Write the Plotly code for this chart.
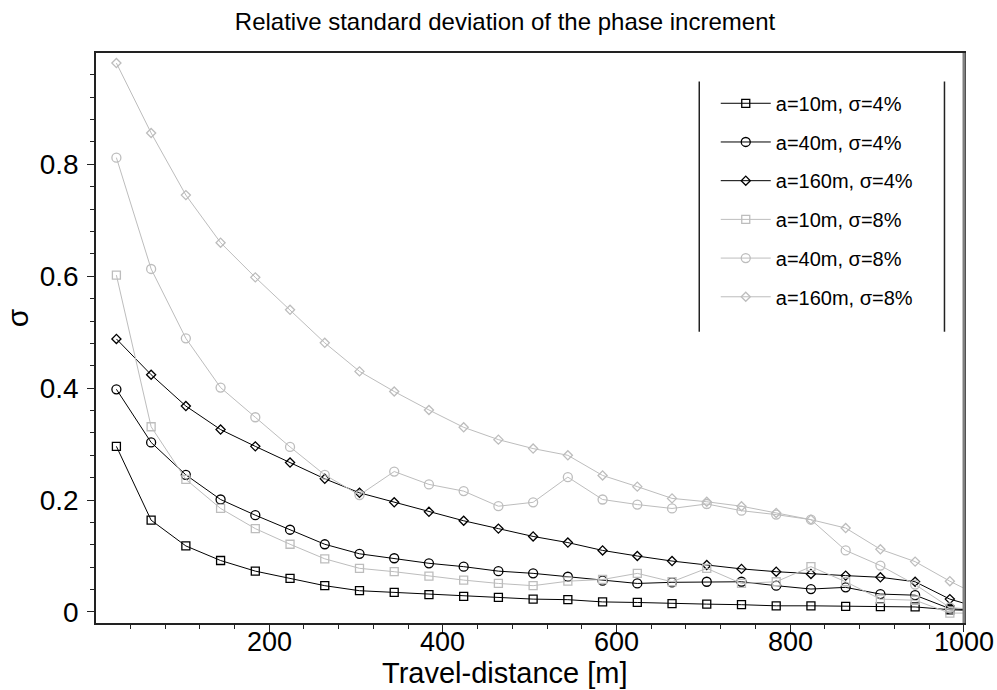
import plotly.graph_objects as go

# Travel distances [m]; the last value lies just outside the plotted range (line runs to the axis)
distance = [24, 64, 104, 144, 184, 224, 264, 304, 344, 384, 424, 464, 504, 544, 584,
            624, 664, 704, 744, 784, 824, 864, 904, 944, 984, 1024]

a10_s4 = [0.296, 0.164, 0.118, 0.092, 0.073, 0.060, 0.047, 0.038, 0.035, 0.031, 0.028, 0.026,
          0.023, 0.022, 0.018, 0.017, 0.015, 0.014, 0.013, 0.011, 0.011, 0.010, 0.0095, 0.009, 0.004, 0.002]
a40_s4 = [0.398, 0.303, 0.245, 0.201, 0.173, 0.147, 0.121, 0.104, 0.096, 0.087, 0.081, 0.073,
          0.069, 0.063, 0.056, 0.051, 0.053, 0.054, 0.054, 0.047, 0.041, 0.044, 0.032, 0.030, 0.006, 0.002]
a160_s4 = [0.488, 0.424, 0.368, 0.326, 0.296, 0.267, 0.238, 0.213, 0.196, 0.179, 0.163, 0.149,
           0.135, 0.124, 0.110, 0.100, 0.091, 0.084, 0.077, 0.072, 0.068, 0.065, 0.062, 0.054, 0.023, 0.005]
a10_s8 = [0.602, 0.331, 0.237, 0.185, 0.149, 0.121, 0.095, 0.078, 0.072, 0.064, 0.057, 0.051,
          0.047, 0.055, 0.058, 0.069, 0.054, 0.078, 0.051, 0.054, 0.081, 0.054, 0.023, 0.021, -0.002, -0.002]
a40_s8 = [0.812, 0.613, 0.489, 0.401, 0.348, 0.295, 0.245, 0.209, 0.251, 0.228, 0.216, 0.189,
          0.196, 0.241, 0.201, 0.192, 0.185, 0.193, 0.181, 0.174, 0.165, 0.110, 0.083, 0.049, 0.008, 0.003]
a160_s8 = [0.981, 0.856, 0.745, 0.660, 0.598, 0.540, 0.481, 0.430, 0.394, 0.361, 0.330, 0.308,
           0.292, 0.280, 0.244, 0.224, 0.203, 0.197, 0.189, 0.177, 0.165, 0.150, 0.112, 0.090, 0.055, 0.024]

names = ["a=10m, σ=4%", "a=40m, σ=4%", "a=160m, σ=4%",
         "a=10m, σ=8%", "a=40m, σ=8%", "a=160m, σ=8%"]
series = [a10_s4, a40_s4, a160_s4, a10_s8, a40_s8, a160_s8]
symbols = ["square-open", "circle-open", "diamond-open"] * 2
sizes = [8, 9, 7, 8, 9, 7]
colors = ["#000000"] * 3 + ["#bdbdbd"] * 3

x_tick_vals = [200, 400, 600, 800, 1000]
x_tick_text = ["200", "400", "600", "800", "1000"]

title_text = "Relative standard deviation of the phase increment"
x_title = "Travel-distance [m]"
y_title = "σ"
x_range = [0.5, 1000.3]

FONT = "Liberation Sans, Arial, sans-serif"

fig = go.Figure()
for i, (nm, ys) in enumerate(zip(names, series)):
    fig.add_trace(go.Scatter(
        x=distance, y=ys, name=nm, mode="lines+markers",
        line=dict(color=colors[i], width=1),
        marker=dict(symbol=symbols[i], size=sizes[i], color=colors[i],
                    line=dict(width=1.3, color=colors[i])),
        legendgroup=f"g{i}",
    ))

axis_common = dict(
    showgrid=False, zeroline=False, showline=True, linecolor="#222222", linewidth=1.5,
    mirror=True, ticks="outside", ticklen=7, tickwidth=1.2, tickcolor="#222222",
    automargin=False,
    tickfont=dict(family=FONT, size=28, color="#000000"),
)

fig.update_layout(
    width=997, height=690,
    margin=dict(l=96, r=33, t=53, b=67, autoexpand=False),
    paper_bgcolor="white", plot_bgcolor="white",
    title=dict(text=title_text,
               x=0.5065, xref="container", xanchor="center",
               y=0.968, yref="container", yanchor="middle",
               font=dict(family=FONT, size=24, color="#000000")),
    xaxis=dict(range=x_range, tickmode="array", tickvals=x_tick_vals, showticklabels=False,
               minor=dict(dtick=40, tick0=0, ticks="outside", ticklen=4, tickcolor="#222222"),
               **axis_common),
    yaxis=dict(range=[-0.0197, 0.999], tick0=0, dtick=0.2, ticklabelstandoff=3,
               minor=dict(dtick=0.04, tick0=0, ticks="outside", ticklen=4, tickcolor="#222222"),
               **axis_common),
    legend=dict(x=0.714, y=0.946, xanchor="left", yanchor="top",
                font=dict(family=FONT, size=20, color="#000000"),
                bgcolor="rgba(0,0,0,0)", borderwidth=0,
                tracegroupgap=9.7, itemwidth=50),
    showlegend=True,
)

# x tick labels, set close under the frame as in the reference
for v, t in zip(x_tick_vals, x_tick_text):
    fig.add_annotation(text=t, xref="x", yref="paper", x=v, y=-0.0340,
                       xanchor="center", yanchor="middle", showarrow=False,
                       font=dict(family=FONT, size=27, color="#000000"))

# Axis titles (placed as in the reference: centred under the page rather than the plot)
fig.add_annotation(text=x_title, xref="paper", yref="paper", x=0.4707, y=-0.0870,
                   xanchor="center", yanchor="middle", showarrow=False,
                   font=dict(family=FONT, size=29, color="#000000"))
fig.add_annotation(text=y_title, xref="paper", yref="paper", x=-0.0903, y=0.5356,
                   xanchor="center", yanchor="middle", showarrow=False, textangle=-90,
                   font=dict(family=FONT, size=30, color="#000000"))

# Legend frame: vertical rules on its left and right only
for xv in (0.695, 0.9775):
    fig.add_shape(type="line", xref="paper", yref="paper", x0=xv, x1=xv, y0=0.511, y1=0.950,
                  line=dict(color="#222222", width=1.5))
# grey, heavier right frame edge
fig.add_shape(type="line", xref="paper", yref="paper", x0=1, x1=1, y0=0, y1=1,
              line=dict(color="#808080", width=3))

fig.write_html("out.html")
